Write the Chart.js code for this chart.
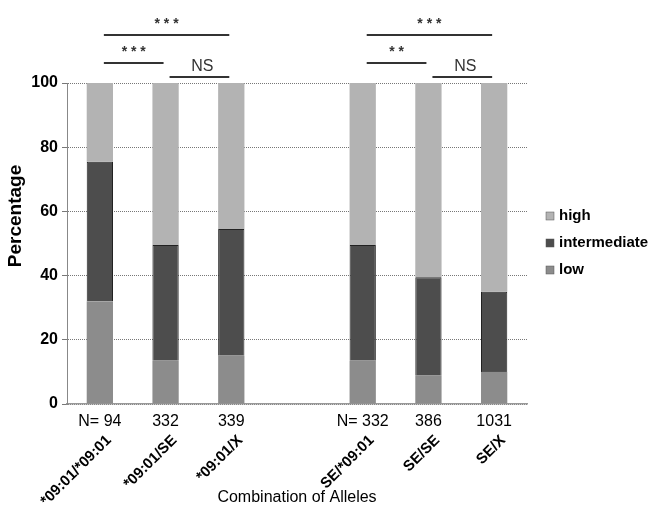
<!DOCTYPE html>
<html lang="en">
<head>
  <meta charset="UTF-8">
  <title>Combination of Alleles</title>
  <style>
    body {
      margin: 0;
      background: #fff;
    }
    #wrap {
      width: 656px;
      height: 512px;
    }
  </style>
  <script src="https://cdn.jsdelivr.net/npm/chart.js"></script>
</head>
<body>
  <div id="wrap">
    <canvas id="chart" width="656" height="512"></canvas>
  </div>

  <script>
    // categories (empty slot separates the two groups)
    const categories = ['*09:01/*09:01', '*09:01/SE', '*09:01/X', '', 'SE/*09:01', 'SE/SE', 'SE/X'];
    const nLabels = ['N= 94', '332', '339', '', 'N= 332', '386', '1031'];

    // percentages
    const low = [32, 13.5, 15, null, 13.5, 9, 10];
    const intermediate = [43.5, 36, 39.5, null, 36, 30.5, 25];
    const high = [24.5, 50.5, 45.5, null, 50.5, 60.5, 65];

    const yTicks = [0, 20, 40, 60, 80, 100];

    // significance brackets: from index, to index, label, row
    const bracketFrom = [0, 0, 1, 4, 4, 5];
    const bracketTo = [2, 1, 2, 6, 5, 6];
    const bracketText = ['***', '***', 'NS', '***', '**', 'NS'];
    const bracketRow = [0, 1, 2, 0, 1, 2];

    const colors = { high: '#b3b3b3', intermediate: '#4d4d4d', low: '#8c8c8c' };

    const extras = {
      id: 'extras',
      afterDraw(chart) {
        const ctx = chart.ctx;
        const x = chart.scales.x;

        // y axis title (sits a bit above the middle in the original)
        ctx.save();
        ctx.fillStyle = '#000';
        ctx.font = 'bold 19px "Liberation Sans", Arial, sans-serif';
        ctx.textAlign = 'center';
        ctx.textBaseline = 'middle';
        ctx.translate(16, 216);
        ctx.rotate(-Math.PI / 2);
        ctx.fillText('Percentage', 0, 0);
        ctx.restore();

        // rotated allele names
        ctx.save();
        ctx.fillStyle = '#000';
        ctx.font = 'bold 15px "Liberation Sans", Arial, sans-serif';
        ctx.textAlign = 'right';
        ctx.textBaseline = 'middle';
        categories.forEach((c, i) => {
          if (!c) return;
          const px = x.getPixelForValue(i);
          ctx.save();
          ctx.translate(px + 9, 438);
          ctx.rotate(-Math.PI / 4);
          ctx.fillText(c, 0, 0);
          ctx.restore();
        });
        ctx.restore();

        // brackets
        const lineY = [35, 63, 77];
        const textY = [22, 50, 67];
        ctx.save();
        ctx.strokeStyle = '#333';
        ctx.lineWidth = 2;
        ctx.fillStyle = '#333';
        ctx.textAlign = 'center';
        ctx.textBaseline = 'middle';
        bracketFrom.forEach((f, k) => {
          const x1 = x.getPixelForValue(f) + 4;
          const x2 = x.getPixelForValue(bracketTo[k]) - 2;
          const r = bracketRow[k];
          ctx.beginPath();
          ctx.moveTo(x1, lineY[r]);
          ctx.lineTo(x2, lineY[r]);
          ctx.stroke();
          if (bracketText[k] === 'NS') {
            ctx.font = '16px "Liberation Sans Narrow", "Liberation Sans", sans-serif';
            ctx.fillText('NS', (x1 + x2) / 2 + 3, textY[r]);
          } else {
            ctx.font = 'bold 14px "Liberation Sans", sans-serif';
            ctx.fillText(bracketText[k].split('').join(' '), (x1 + x2) / 2, textY[r] + 2);
          }
        });
        ctx.restore();

        // legend
        const items = [['high', colors.high], ['intermediate', colors.intermediate], ['low', colors.low]];
        ctx.save();
        ctx.font = 'bold 15px "Liberation Sans", sans-serif';
        ctx.textAlign = 'left';
        ctx.textBaseline = 'middle';
        items.forEach((it, i) => {
          const y = 216 + i * 27;
          ctx.fillStyle = it[1];
          ctx.fillRect(546, y - 4, 8, 8);
          ctx.strokeStyle = '#555';
          ctx.lineWidth = 0.5;
          ctx.strokeRect(546, y - 4, 8, 8);
          ctx.fillStyle = '#000';
          ctx.fillText(it[0], 559, y);
        });
        ctx.restore();
      }
    };

    new Chart(document.getElementById('chart'), {
      type: 'bar',
      data: {
        labels: categories,
        datasets: [
          { label: 'low', data: low, backgroundColor: colors.low },
          { label: 'intermediate', data: intermediate, backgroundColor: colors.intermediate, borderColor: '#222', borderWidth: { left: 1, right: 1, top: 1, bottom: 0 } },
          { label: 'high', data: high, backgroundColor: colors.high }
        ]
      },
      plugins: [extras],
      options: {
        responsive: false,
        animation: false,
        layout: { padding: { top: 83, right: 129, left: 0, bottom: 0 } },
        plugins: {
          legend: { display: false },
          tooltip: { enabled: false }
        },
        datasets: { bar: { barPercentage: 0.4, categoryPercentage: 1.0 } },
        scales: {
          x: {
            stacked: true,
            afterFit: s => { s.height = 108; },
            grid: { display: false, drawTicks: false },
            border: { display: true, color: '#999', width: 1.5 },
            ticks: {
              padding: 8,
              maxRotation: 0,
              autoSkip: false,
              color: '#000',
              font: { family: '"Liberation Sans", Arial, sans-serif', size: 16 },
              callback: (v, i) => nLabels[i]
            },
            title: {
              display: true,
              text: 'Combination of Alleles',
              color: '#000',
              font: { family: '"Liberation Sans", Arial, sans-serif', size: 16 },
              padding: { top: 0, bottom: 5 }
            }
          },
          y: {
            stacked: true,
            min: 0,
            max: 100,
            afterFit: s => { s.width = 67; },
            afterBuildTicks: s => { s.ticks = yTicks.map(v => ({ value: v })); },
            grid: { color: '#777', tickLength: 5, lineWidth: 1 },
            border: { display: true, color: '#888', dash: [1, 1] },
            ticks: {
              padding: 4,
              color: '#000',
              font: { family: '"Liberation Sans", Arial, sans-serif', size: 16, weight: 'bold' }
            }
          }
        }
      }
    });
  </script>
</body>
</html>
